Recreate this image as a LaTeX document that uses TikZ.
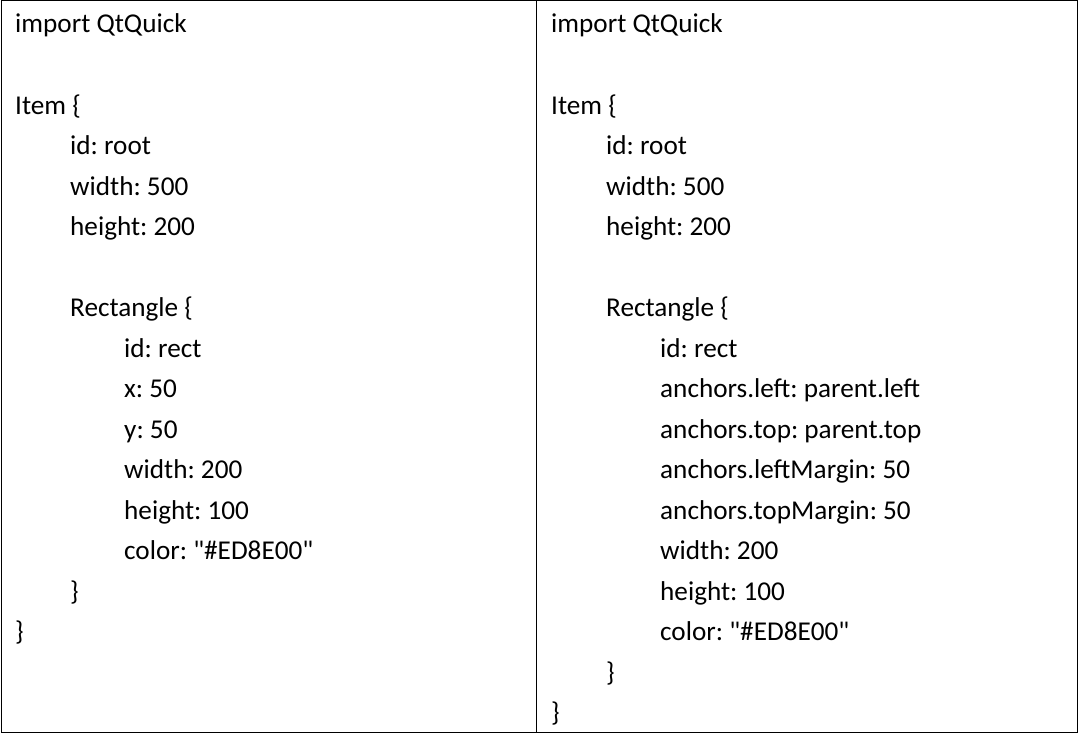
\documentclass[tikz,border=0pt]{standalone}
\usepackage{fontspec}
\newfontfamily\carl{Carlito}
\begin{document}
\begin{tikzpicture}[x=1pt,y=-1pt,
  code/.style={anchor=base west,inner sep=0pt,font=\carl\fontsize{27.2}{27}\selectfont\frenchspacing},
  frame/.style={draw=black,line width=1pt}]
\useasboundingbox (0,0) rectangle (1078,733);
\draw[frame] (1,1) rectangle (1077,732);
\draw[frame] (536.5,1) -- (536.5,732);
\def\q{\symbol{34}}
\def\ls{40.5}
\def\b{33}
% left column
\node[code] (l1) at (15,\b) {import QtQuick};
\node[code] (l2) at (15,\b+2*\ls) {Item \{};
\node[code] (l3) at (70,\b+3*\ls) {id: root};
\node[code] (l4) at (70,\b+4*\ls) {width: 500};
\node[code] (l5) at (70,\b+5*\ls) {height: 200};
\node[code] (l6) at (70,\b+7*\ls) {Rectangle \{};
\node[code] (l7) at (124,\b+8*\ls) {id: rect};
\node[code] (l8) at (124,\b+9*\ls) {x: 50};
\node[code] (l9) at (124,\b+10*\ls) {y: 50};
\node[code] (l10) at (124,\b+11*\ls) {width: 200};
\node[code] (l11) at (124,\b+12*\ls) {height: 100};
\node[code] (l12) at (124,\b+13*\ls) {color: \q\#ED8E00\q};
\node[code] (l13) at (70,\b+14*\ls) {\}};
\node[code] (l14) at (15,\b+15*\ls) {\}};
% right column
\node[code] (r1) at (551,\b) {import QtQuick};
\node[code] (r2) at (551,\b+2*\ls) {Item \{};
\node[code] (r3) at (606,\b+3*\ls) {id: root};
\node[code] (r4) at (606,\b+4*\ls) {width: 500};
\node[code] (r5) at (606,\b+5*\ls) {height: 200};
\node[code] (r6) at (606,\b+7*\ls) {Rectangle \{};
\node[code] (r7) at (660,\b+8*\ls) {id: rect};
\node[code] (r8) at (660,\b+9*\ls) {anchors.left: parent.left};
\node[code] (r9) at (660,\b+10*\ls) {anchors.top: parent.top};
\node[code] (r10) at (660,\b+11*\ls) {anchors.leftMargin: 50};
\node[code] (r11) at (660,\b+12*\ls) {anchors.topMargin: 50};
\node[code] (r12) at (660,\b+13*\ls) {width: 200};
\node[code] (r13) at (660,\b+14*\ls) {height: 100};
\node[code] (r14) at (660,\b+15*\ls) {color: \q\#ED8E00\q};
\node[code] (r15) at (606,\b+16*\ls) {\}};
\node[code] (r16) at (551,\b+17*\ls) {\}};
\end{tikzpicture}
\end{document}
